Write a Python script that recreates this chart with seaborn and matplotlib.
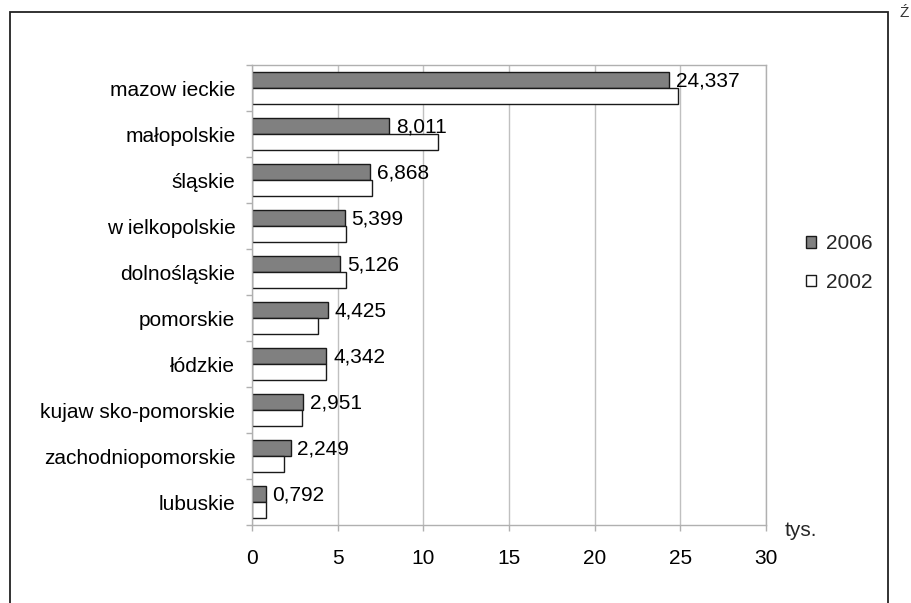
import matplotlib
matplotlib.use("Agg")
import matplotlib.pyplot as plt
import matplotlib.patches as mpatches
from matplotlib.ticker import FixedLocator, MultipleLocator
import seaborn as sns
import pandas as pd

regions = ["mazow ieckie", "małopolskie", "śląskie", "w ielkopolskie", "dolnośląskie",
           "pomorskie", "łódzkie", "kujaw sko-pomorskie", "zachodniopomorskie", "lubuskie"]
values_2006 = [24.337, 8.011, 6.868, 5.399, 5.126, 4.425, 4.342, 2.951, 2.249, 0.792]
values_2002 = [24.88, 10.83, 7.0, 5.47, 5.47, 3.84, 4.32, 2.91, 1.87, 0.81]
years = ["2006", "2002"]
x_ticks = [0, 5, 10, 15, 20, 25, 30]
unit_label = "tys."

df = pd.DataFrame({
    "region": regions * 2,
    "year": [years[0]] * len(regions) + [years[1]] * len(regions),
    "value": values_2006 + values_2002,
})

sns.set_style("white")
plt.rcParams["font.family"] = ["Liberation Sans", "DejaVu Sans"]

W, H = 911, 603
fig = plt.figure(figsize=(W / 100, H / 100), dpi=100)
ax = fig.add_axes([252 / W, 1 - 525 / H, (766 - 252) / W, (525 - 65) / H])

palette = {"2006": "#808080", "2002": "#ffffff"}
sns.barplot(data=df, y="region", x="value", hue="year", hue_order=years, order=regions,
            palette=palette, orient="h", width=0.7, edgecolor="#1a1a1a", linewidth=1.0,
            legend=False, ax=ax, saturation=1)

ax.set_xlim(0, 30)
ax.set_ylim(len(regions) - 0.5, -0.5)
ax.xaxis.set_major_locator(FixedLocator(x_ticks))
ax.grid(axis="x", color="#c0c0c0", linewidth=1.0)
ax.grid(axis="y", visible=False)
ax.set_axisbelow(True)
for s in ax.spines.values():
    s.set_color("#b0b0b0")
    s.set_linewidth(1.0)
    s.set_visible(True)

ax.set_xlabel("")
ax.set_ylabel("")
ax.tick_params(axis="x", which="major", direction="out", length=4, width=1, color="#b0b0b0",
               pad=13, labelsize=15, labelcolor="black", bottom=True)
ax.tick_params(axis="y", which="major", length=0, pad=12, labelsize=15, labelcolor="black")
ax.yaxis.set_minor_locator(FixedLocator([i - 0.5 for i in range(len(regions) + 1)]))
ax.tick_params(axis="y", which="minor", direction="out", length=4, width=1, color="#b0b0b0", left=True)

# data labels on the 2006 bars
for bar, v in zip(ax.containers[0], values_2006):
    yc = bar.get_y() + bar.get_height() / 2
    ax.annotate(f"{v:.3f}".replace(".", ","), xy=(bar.get_width(), yc),
                xytext=(5, -1), textcoords="offset points", ha="left", va="center",
                fontsize=15, color="black", annotation_clip=False)

# legend
handles = [mpatches.Patch(facecolor=palette[y], edgecolor="#1a1a1a", linewidth=1.0, label=y) for y in years]
fig.legend(handles=handles, loc="center left", bbox_to_anchor=(806 / W, 1 - 263 / H),
           frameon=False, fontsize=15, handlelength=0.5, handleheight=0.5,
           handletextpad=0.45, labelspacing=0.95, borderpad=0, borderaxespad=0)

fig.text(785 / W, 1 - 531 / H, unit_label, fontsize=15, ha="left", va="center")

# outer frame
frame = mpatches.Rectangle((10 / W, -0.05), (888 - 10) / W, 1 - 12 / H + 0.05,
                           transform=fig.transFigure, fill=False, edgecolor="#222222",
                           linewidth=1.3, clip_on=False)
fig.patches.append(frame)
fig.text(899 / W, 1 - 17 / H, "Ź", fontsize=11, ha="left", va="baseline", color="#333333")

fig.savefig("out.png", dpi=100)
